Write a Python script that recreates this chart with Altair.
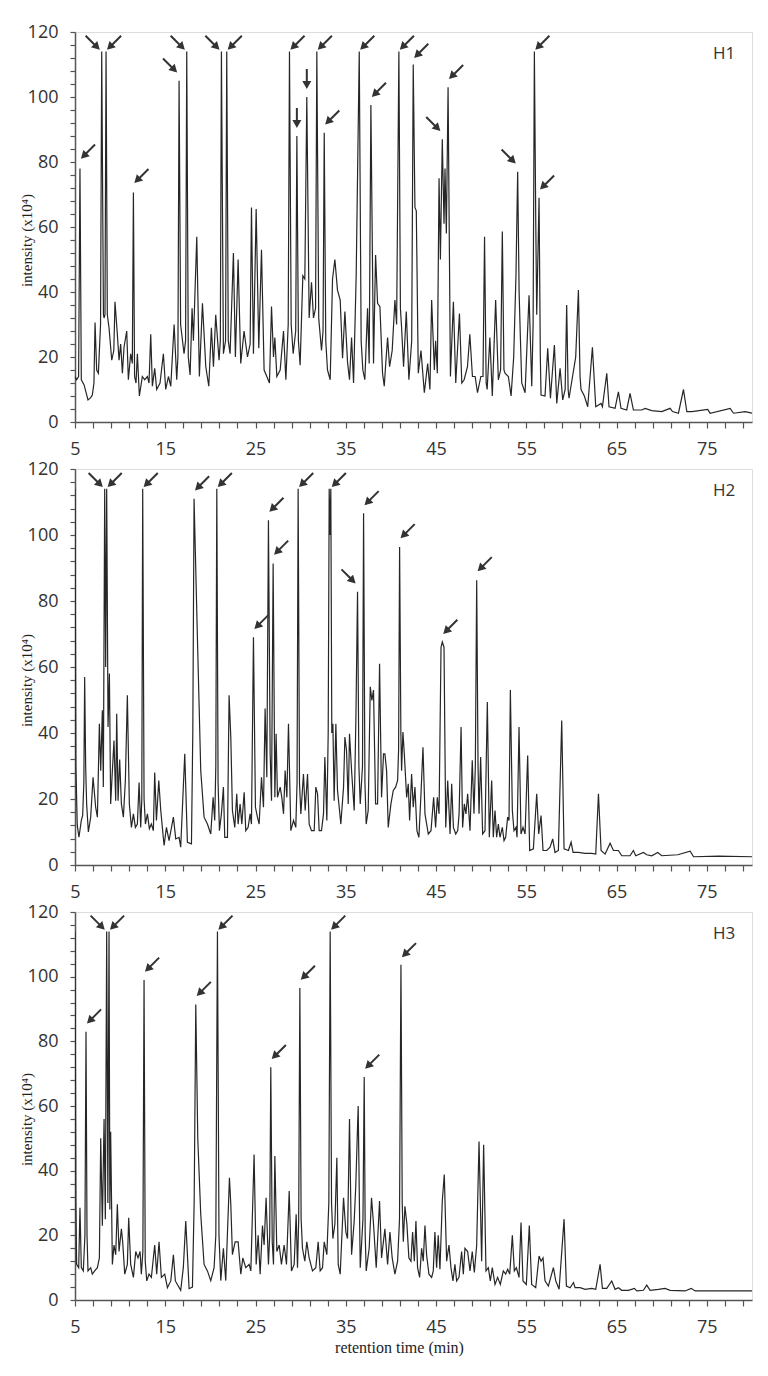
import altair as alt
import pandas as pd

# ---------------- data ----------------
X_DOMAIN = [5, 80]
Y_DOMAIN = [0, 120]
X_TICKS = list(range(5, 80, 2))
Y_TICKS = list(range(0, 121, 4))
PANEL_NAMES = ["H1", "H2", "H3"]
NAME_POS = (76.9, 113.3)

# (retention time, intensity)
H1_TRACE = [
    (5.00, 14), (5.18, 13), (5.40, 14), (5.55, 78), (5.70, 13), (6.00, 11.5), (6.44, 6.8), (6.74, 7.5),
    (6.92, 8.3), (7.10, 12), (7.22, 30.6), (7.40, 16), (7.59, 15), (7.83, 30), (7.96, 114), (8.15, 33),
    (8.22, 32), (8.32, 33), (8.44, 114), (8.58, 33), (8.77, 29), (9.07, 19), (9.30, 22), (9.43, 37),
    (9.69, 27), (9.88, 19), (10.06, 24), (10.25, 15), (10.43, 23), (10.73, 28), (10.91, 13), (11.17, 21),
    (11.35, 18), (11.47, 70.6), (11.60, 14), (11.76, 12), (11.91, 21), (12.13, 8), (12.46, 14), (12.72, 13),
    (13.02, 14), (13.20, 12), (13.39, 27), (13.57, 11), (13.83, 16.5), (14.05, 10), (14.42, 12), (14.79, 21),
    (15.05, 10), (15.35, 14), (15.61, 11), (15.98, 30), (16.27, 13), (16.40, 20), (16.53, 105), (16.70, 30),
    (17.08, 21), (17.25, 25), (17.38, 114), (17.55, 20), (17.75, 14.5), (17.97, 35), (18.12, 25), (18.49, 57),
    (18.78, 14), (19.12, 36.5), (19.49, 17), (19.82, 11), (20.11, 29), (20.34, 17), (20.59, 33), (20.96, 19),
    (21.10, 25), (21.22, 114), (21.44, 21), (21.68, 25), (21.81, 114), (21.98, 25), (22.18, 21), (22.55, 52),
    (22.77, 20), (23.07, 50), (23.36, 18), (23.73, 28), (24.11, 20), (24.40, 24), (24.55, 66), (24.77, 21),
    (25.07, 65.5), (25.36, 22.7), (25.66, 53), (25.95, 16), (26.25, 14), (26.54, 12), (26.77, 35.5), (26.99, 20),
    (27.14, 26), (27.36, 14), (27.73, 16), (28.10, 28), (28.36, 13), (28.62, 30), (28.76, 114), (28.95, 30),
    (29.17, 21), (29.45, 28), (29.58, 88), (29.75, 25), (29.94, 17.5), (30.24, 45), (30.46, 44), (30.68, 100),
    (30.94, 32), (31.20, 43), (31.42, 32), (31.65, 35), (31.79, 114), (32.00, 32), (32.09, 29), (32.31, 22),
    (32.48, 28), (32.61, 89), (32.78, 25), (32.97, 16), (33.27, 13), (33.53, 44), (33.79, 50), (34.08, 40.6),
    (34.38, 37.5), (34.64, 19.6), (34.90, 34), (35.19, 18.5), (35.41, 13), (35.64, 26), (35.86, 12), (36.15, 45),
    (36.49, 114), (36.70, 25), (36.89, 16), (37.11, 13), (37.41, 35), (37.59, 18), (37.78, 97.5), (38.07, 18),
    (38.30, 51.4), (38.52, 36.5), (38.78, 35.5), (39.07, 15), (39.26, 11), (39.40, 17), (39.63, 26), (39.85, 17),
    (40.14, 22), (40.44, 37.5), (40.63, 30), (40.88, 114), (41.05, 35), (41.18, 29), (41.40, 17), (41.70, 34),
    (41.99, 13), (42.30, 25), (42.47, 110), (42.66, 66), (42.81, 65), (43.03, 15), (43.33, 22), (43.70, 9),
    (44.07, 18), (44.32, 10), (44.51, 37.5), (44.81, 16), (44.95, 25), (45.14, 15), (45.33, 75), (45.48, 50),
    (45.69, 87), (45.88, 61), (45.99, 78), (46.14, 58), (46.33, 103), (46.59, 14), (46.92, 37), (47.18, 12),
    (47.59, 33.4), (47.85, 12), (48.11, 13), (48.48, 17), (48.74, 27), (49.03, 14), (49.33, 14), (49.59, 9),
    (49.96, 14), (50.20, 14), (50.37, 57), (50.55, 12), (50.66, 10), (50.96, 26), (51.23, 8), (51.60, 37.5),
    (51.90, 13), (52.15, 16), (52.34, 58.6), (52.52, 16), (52.64, 15), (53.01, 14), (53.31, 8), (53.60, 20),
    (53.85, 45), (54.04, 77), (54.20, 40), (54.34, 26), (54.49, 12), (54.86, 9), (55.30, 39), (55.60, 11),
    (55.75, 30), (55.89, 114), (56.05, 60), (56.15, 33), (56.41, 69), (56.55, 20), (56.63, 8.3), (57.07, 8),
    (57.37, 22.7), (57.67, 7.3), (58.11, 23.7), (58.37, 5.7), (58.74, 16.5), (59.03, 6.8), (59.30, 10), (59.47, 36),
    (59.63, 10), (59.73, 7.3), (60.47, 20), (60.77, 40.6), (60.95, 14), (61.06, 10), (61.43, 8), (61.80, 4.7),
    (62.32, 23), (62.69, 4.7), (63.28, 5.7), (63.43, 4.7), (63.91, 15), (64.16, 4.7), (64.83, 4.2), (65.20, 9.3),
    (65.49, 4.2), (66.12, 3.7), (66.49, 8.8), (66.86, 3.7), (67.79, 3.7), (68.16, 4.2), (68.89, 3.5), (70.00, 3.2),
    (70.93, 4.2), (71.19, 3.2), (71.85, 2.7), (72.41, 10), (72.78, 3.2), (73.34, 3.2), (75.10, 3.9), (75.36, 2.7),
    (77.58, 4.2), (77.95, 2.7), (79.24, 3.2), (80.00, 2.7),
]

H2_TRACE = [
    (5.00, 114), (5.10, 30), (5.25, 12), (5.44, 8.4), (5.70, 13.5), (5.85, 15), (5.98, 25), (6.07, 57),
    (6.18, 30), (6.29, 18.5), (6.48, 10), (6.74, 14.5), (7.00, 26.6), (7.29, 17.5), (7.48, 14.5), (7.70, 42.8),
    (7.85, 28.6), (8.03, 46.9), (8.14, 23.6), (8.29, 114), (8.40, 60), (8.51, 114), (8.66, 41.8), (8.81, 58),
    (8.95, 18.5), (9.14, 28.6), (9.32, 37.7), (9.51, 19.5), (9.62, 45.8), (9.77, 19.5), (9.95, 32), (10.14, 18.5),
    (10.36, 14.5), (10.58, 25.6), (10.80, 51.4), (11.02, 18.5), (11.25, 11.4), (11.47, 15.5), (11.69, 11.4),
    (11.91, 12.4), (12.10, 25), (12.28, 11.4), (12.40, 20), (12.50, 114), (12.65, 20), (12.80, 12.4), (13.02, 15.5),
    (13.24, 11), (13.46, 12.4), (13.68, 10.4), (13.83, 28), (14.02, 13.5), (14.28, 25.6), (14.50, 16.5), (14.87, 5.9),
    (15.13, 11.4), (15.42, 7.4), (15.90, 14.5), (16.16, 7.9), (16.53, 8.4), (16.71, 5.4), (17.16, 33.7), (17.45, 6.9),
    (17.90, 6.4), (18.05, 40), (18.19, 111), (18.56, 69), (18.93, 28.6), (19.30, 14.5), (19.67, 12.4), (20.04, 9.4),
    (20.30, 20.5), (20.48, 13.5), (20.60, 30), (20.71, 114), (20.85, 25), (21.00, 10.4), (21.22, 15.5), (21.44, 23.6),
    (21.59, 8.4), (21.89, 8.4), (22.07, 51.4), (22.26, 38.8), (22.44, 16.5), (22.70, 11.4), (22.92, 21.6), (23.07, 12.4),
    (23.29, 18.5), (23.48, 12.4), (23.74, 22), (23.92, 10.4), (24.18, 11.4), (24.40, 15.5), (24.55, 12.4), (24.77, 69),
    (24.99, 17.5), (25.21, 14.5), (25.40, 12.4), (25.66, 26.6), (25.88, 17.5), (26.06, 47.4), (26.25, 26.6), (26.43, 104.5),
    (26.62, 33.7), (26.77, 19.5), (26.95, 91.4), (27.14, 20.5), (27.28, 39.8), (27.43, 20.5), (27.73, 23.6), (27.91, 20.5),
    (28.10, 15.5), (28.28, 28.6), (28.47, 20.5), (28.65, 42.8), (28.91, 10.4), (29.21, 13.5), (29.46, 11.4), (29.60, 25),
    (29.72, 114), (29.87, 25), (30.02, 15.5), (30.31, 27.6), (30.50, 16.5), (30.76, 27.6), (30.94, 12.4), (31.20, 10.4),
    (31.50, 10.4), (31.68, 23.6), (31.87, 21.6), (32.05, 10.4), (32.31, 10.4), (32.53, 15.5), (32.68, 32.7), (32.90, 13.5),
    (33.05, 40), (33.16, 114), (33.25, 100), (33.34, 114), (33.45, 40), (33.57, 42.8), (33.71, 19.5), (33.90, 42.8),
    (34.08, 22.6), (34.27, 17.5), (34.45, 12.4), (34.75, 23.6), (34.90, 38.8), (35.08, 34.7), (35.27, 18.5), (35.41, 39.8),
    (35.64, 28.6), (35.93, 16.5), (36.12, 44.8), (36.30, 82.8), (36.45, 30), (36.60, 18.5), (36.85, 30), (36.97, 106.6),
    (37.12, 25), (37.26, 12.4), (37.48, 16.5), (37.71, 54), (37.89, 49.9), (38.07, 53), (38.30, 18.5), (38.52, 18.5),
    (38.74, 61), (38.96, 20.5), (39.18, 33.7), (39.33, 33.7), (39.52, 28.6), (39.70, 11.4), (40.00, 18.5), (40.26, 22.6),
    (40.52, 23.6), (40.74, 25.6), (40.85, 35), (40.96, 96.4), (41.10, 40), (41.18, 28.6), (41.33, 40.3), (41.48, 33.7),
    (41.74, 20.5), (41.92, 24.6), (42.07, 13.5), (42.29, 27.6), (42.47, 17.5), (42.66, 23.6), (42.88, 10.4), (43.10, 8.4),
    (43.33, 21.6), (43.55, 35.7), (43.77, 15.5), (44.14, 9.4), (44.44, 10.4), (44.73, 20.5), (44.95, 11.4), (45.14, 20.5),
    (45.33, 15.5), (45.55, 66), (45.69, 67.6), (45.88, 66), (46.07, 11.4), (46.29, 25.6), (46.55, 9.4), (46.73, 24.6),
    (46.92, 11.4), (47.18, 9.4), (47.40, 10.4), (47.55, 15.5), (47.77, 41.8), (47.94, 11.4), (48.13, 18.5), (48.31, 15.5),
    (48.50, 21.6), (48.76, 10.4), (49.01, 31.7), (49.20, 15.5), (49.35, 30), (49.50, 86.3), (49.65, 30), (49.76, 15.5),
    (49.94, 32.7), (50.16, 9.4), (50.42, 10.4), (50.68, 49.4), (50.90, 8.4), (51.16, 25.6), (51.34, 8.4), (51.53, 16.5),
    (51.71, 8.4), (51.90, 12.4), (52.08, 8.4), (52.34, 11.4), (52.53, 7.4), (52.71, 8.4), (52.93, 14.5), (53.08, 13.5),
    (53.23, 53), (53.45, 16.5), (53.63, 10.4), (53.86, 11.4), (53.97, 8.4), (54.19, 41.8), (54.41, 9.4), (54.63, 11.4),
    (54.86, 9.4), (55.15, 33.2), (55.37, 4.4), (55.78, 4.9), (56.15, 21.6), (56.37, 9.4), (56.63, 15), (56.85, 4.4),
    (57.26, 4.4), (57.63, 5.4), (57.92, 7.9), (58.18, 3.8), (58.55, 4.4), (58.92, 43.8), (59.18, 4.9), (59.66, 4.4),
    (59.96, 6.9), (60.18, 3.8), (60.77, 3.8), (61.51, 3.5), (62.25, 3.5), (62.69, 3.3), (62.99, 21.6), (63.28, 4.4),
    (63.73, 3.3), (64.28, 6.6), (64.65, 4.4), (65.20, 4.4), (65.57, 2.8), (66.49, 2.8), (66.86, 4.4), (67.12, 2.8),
    (67.97, 3.8), (68.34, 3.1), (68.89, 2.8), (69.56, 3.8), (70.00, 2.8), (71.78, 3.1), (73.15, 4.2), (73.52, 2.5),
    (76.29, 2.7), (80.00, 2.5),
]

H3_TRACE = [
    (5.00, 114), (5.10, 30), (5.18, 11), (5.41, 10), (5.55, 28.5), (5.70, 10), (5.92, 9), (6.10, 20),
    (6.22, 83), (6.33, 20), (6.44, 9), (6.74, 10), (6.92, 8), (7.18, 9), (7.48, 10), (7.70, 13),
    (7.85, 50), (8.03, 23), (8.22, 56), (8.36, 25), (8.51, 114), (8.64, 30), (8.77, 114), (8.86, 28),
    (8.95, 52), (9.14, 11), (9.32, 17), (9.51, 14), (9.69, 29.6), (9.88, 15), (10.14, 22), (10.28, 18),
    (10.51, 8), (10.80, 11), (10.95, 25.4), (11.17, 11), (11.47, 7), (11.73, 15), (11.98, 13), (12.21, 15),
    (12.35, 8), (12.52, 15), (12.65, 99), (12.78, 12), (12.95, 5.9), (13.20, 8), (13.46, 7), (13.83, 17),
    (14.05, 8), (14.31, 18), (14.57, 7), (14.94, 8), (15.24, 3.8), (15.61, 5.9), (15.90, 14), (16.12, 5.9),
    (16.71, 3), (17.00, 10), (17.27, 24.4), (17.64, 3.5), (18.01, 4), (18.20, 30), (18.38, 91.4), (18.60, 50),
    (18.93, 26.5), (19.30, 11), (19.67, 9), (20.04, 6), (20.41, 10), (20.60, 20), (20.78, 114), (20.95, 20),
    (21.15, 6), (21.44, 16), (21.70, 6), (22.11, 37.8), (22.26, 29.6), (22.44, 14), (22.74, 18), (23.07, 18),
    (23.37, 8), (23.59, 13), (23.92, 10), (24.29, 11), (24.48, 9), (24.84, 45), (25.07, 11), (25.29, 20),
    (25.51, 8), (25.77, 23), (25.95, 17), (26.17, 31.6), (26.43, 11), (26.57, 20), (26.69, 72), (26.85, 18),
    (26.99, 11), (27.14, 44.5), (27.36, 15), (27.62, 17), (27.87, 11), (28.17, 17), (28.43, 11), (28.73, 33.7),
    (28.98, 9), (29.28, 11), (29.50, 26.5), (29.65, 10), (29.78, 25), (29.91, 96.5), (30.05, 25), (30.20, 16),
    (30.46, 12), (30.68, 18), (30.94, 13), (31.31, 9), (31.68, 10), (31.94, 18), (32.16, 9), (32.42, 10),
    (32.61, 18), (32.90, 14), (33.12, 30), (33.27, 114), (33.42, 30), (33.57, 19), (33.79, 23.5), (34.01, 44),
    (34.16, 11), (34.38, 8), (34.75, 31.6), (35.01, 21), (35.19, 19), (35.41, 56), (35.64, 14), (35.93, 24.4),
    (36.10, 35), (36.37, 60), (36.60, 10), (36.90, 25), (37.04, 69), (37.15, 20), (37.26, 9), (37.59, 16),
    (37.85, 31.6), (38.07, 23.5), (38.37, 10), (38.74, 30.6), (38.96, 13), (39.33, 22), (39.63, 11), (39.89, 21),
    (40.14, 13), (40.44, 8), (40.74, 12), (40.95, 25), (41.11, 103.7), (41.25, 30), (41.37, 18), (41.55, 29),
    (41.77, 23.4), (41.99, 13), (42.22, 12), (42.40, 21), (42.59, 12), (42.77, 24.4), (42.95, 10), (43.18, 7),
    (43.40, 16), (43.58, 12), (43.77, 23), (43.95, 14), (44.21, 8), (44.51, 7), (44.69, 9), (44.87, 21),
    (45.06, 10), (45.24, 20), (45.43, 9.5), (45.69, 30.6), (45.91, 38.8), (46.17, 12), (46.43, 17), (46.65, 10),
    (46.87, 5.9), (47.09, 11), (47.28, 5.9), (47.54, 7), (47.83, 15), (48.02, 8), (48.20, 16), (48.50, 15),
    (48.76, 9), (49.01, 15), (49.24, 8.5), (49.50, 17), (49.76, 49), (50.05, 12), (50.27, 48), (50.53, 9),
    (50.79, 10), (51.01, 5.9), (51.23, 10), (51.53, 4.8), (51.82, 7), (52.12, 4.8), (52.45, 9), (52.71, 8),
    (52.93, 9.5), (53.16, 8), (53.45, 20), (53.67, 9), (53.90, 10), (54.19, 7), (54.41, 24), (54.63, 5.9),
    (55.00, 4.8), (55.33, 23), (55.59, 4.8), (56.04, 3.8), (56.41, 13.6), (56.63, 12), (56.85, 13), (57.07, 5.9),
    (57.44, 4.3), (57.74, 7.4), (58.00, 10), (58.26, 5.9), (58.63, 3.3), (59.18, 25), (59.44, 4.3), (59.85, 3.8),
    (60.22, 5.4), (60.40, 3.8), (60.96, 3.8), (61.51, 3.3), (62.25, 3.6), (62.69, 3.3), (63.17, 11), (63.43, 3.6),
    (63.91, 3.6), (64.46, 5.9), (64.83, 3.3), (65.20, 3.8), (65.57, 3), (66.31, 3), (66.97, 3.6), (67.23, 2.8),
    (67.97, 3), (68.34, 4.6), (68.71, 3), (69.63, 3.3), (70.37, 3.6), (70.93, 3), (72.59, 2.8), (73.26, 3.6),
    (73.71, 2.8), (76.30, 2.8), (80.00, 2.8),
]

# arrows: (retention time, intensity at arrow tip, direction the arrow points)
H1_ARROWS = [
    (5.55, 81, "sw"), (7.96, 114.5, "se"), (8.44, 114.5, "sw"), (11.47, 73.5, "sw"), (16.53, 107.5, "se"),
    (17.38, 114.5, "se"), (21.22, 114.5, "se"), (21.81, 114.5, "sw"), (28.76, 114.5, "sw"), (29.58, 90.5, "s"),
    (30.68, 102.5, "s"), (31.79, 114.5, "sw"), (32.61, 91.5, "sw"), (36.49, 114.5, "sw"), (37.78, 100, "sw"),
    (40.88, 114.5, "sw"), (42.47, 112, "sw"), (45.69, 89.5, "se"), (46.33, 105.5, "sw"), (54.04, 79.5, "se"),
    (55.89, 114.5, "sw"), (56.41, 71.5, "sw"),
]
H2_ARROWS = [
    (8.29, 114.5, "se"), (8.51, 114.5, "sw"), (12.50, 114.5, "sw"), (18.19, 113.5, "sw"), (20.71, 114.5, "sw"),
    (24.77, 71.5, "sw"), (26.43, 107, "sw"), (26.95, 94, "sw"), (29.72, 114.5, "sw"), (33.34, 114.5, "sw"),
    (36.30, 85.3, "se"), (36.97, 109, "sw"), (40.96, 99, "sw"), (45.69, 70, "sw"), (49.50, 89, "sw"),
]
H3_ARROWS = [
    (6.22, 85.5, "sw"), (8.51, 114.5, "se"), (8.77, 114.5, "sw"), (12.65, 101.5, "sw"), (18.38, 94, "sw"),
    (20.78, 114.5, "sw"), (26.69, 74.5, "sw"), (29.91, 99, "sw"), (33.27, 114.5, "sw"), (37.04, 71.5, "sw"),
    (41.11, 106, "sw"),
]

# ---------------- styling ----------------
ARROW_PATH = "M-0.1,-1L0.1,-1L0.1,0.2L0.45,0.2L0,1L-0.45,0.2L-0.1,0.2Z"
ARROW_SIZE = 400
ARROW_STYLE = {"sw": (45, 8, -7.1), "se": (315, -9, -7.1), "s": (0, 0, -10)}
SANS = "Open Sans"
SERIF = "Liberation Serif"
WIDTH = 677


def panel(name, trace, arrows, height, xtitle):
    df = pd.DataFrame(trace, columns=["t", "i"])
    xaxis = alt.Axis(
        values=X_TICKS, tickCount=500, format="d",
        labelExpr="datum.value % 10 == 5 ? datum.label : ''",
        tickSize=6, tickColor="#555", tickWidth=1.2, domainColor="#555", domainWidth=1.5,
        labelFont=SANS, labelFontSize=18, labelColor="#333", labelPadding=12,
        labelOverlap=False, labelFlush=False, grid=False,
        title=xtitle if xtitle else None, titleFont=SERIF, titleFontSize=16,
        titleFontWeight="normal", titleColor="#222", titleX=324, titleY=47, titleBaseline="middle",
    )
    yaxis = alt.Axis(
        values=Y_TICKS, tickCount=500, format="d",
        labelExpr="datum.value % 20 == 0 ? datum.label : ''",
        tickSize=5, tickColor="#555", tickWidth=1.2, domainColor="#555", domainWidth=1.5,
        labelFont=SANS, labelFontSize=18, labelColor="#333", labelPadding=12,
        labelOverlap=False, labelFlush=False, grid=False,
        title="intensity (x10⁴)", titleFont=SERIF, titleFontSize=15, titleFontWeight="normal",
        titleColor="#222", titleX=-49, titleY=height / 2 + 13, titleBaseline="middle",
    )
    xs = alt.Scale(domain=X_DOMAIN, nice=False, zero=False)
    ys = alt.Scale(domain=Y_DOMAIN, nice=False, zero=True)
    line = alt.Chart(df).mark_line(color="#262626", strokeWidth=1.2, clip=True).encode(
        x=alt.X("t:Q", scale=xs, axis=xaxis),
        y=alt.Y("i:Q", scale=ys, axis=yaxis),
        order="t:Q",
    )
    layers = [line]
    adf = pd.DataFrame(arrows, columns=["t", "i", "dir"])
    for d, (ang, dx, dy) in ARROW_STYLE.items():
        sub = adf[adf["dir"] == d]
        if len(sub) == 0:
            continue
        layers.append(
            alt.Chart(sub).mark_point(
                shape=ARROW_PATH, size=ARROW_SIZE, filled=True, color="#333", opacity=1,
                angle=ang, xOffset=dx, yOffset=dy, strokeWidth=0,
            ).encode(x=alt.X("t:Q", scale=xs), y=alt.Y("i:Q", scale=ys))
        )
    ldf = pd.DataFrame({"t": [NAME_POS[0]], "i": [NAME_POS[1]], "txt": [name]})
    layers.append(
        alt.Chart(ldf).mark_text(font=SANS, fontSize=17, color="#333", align="center", baseline="middle").encode(
            x=alt.X("t:Q", scale=xs), y=alt.Y("i:Q", scale=ys), text="txt:N"
        )
    )
    return alt.layer(*layers).properties(width=WIDTH, height=height)


p1 = panel(PANEL_NAMES[0], H1_TRACE, H1_ARROWS, 390, None)
p2 = panel(PANEL_NAMES[1], H2_TRACE, H2_ARROWS, 396, None)
p3 = panel(PANEL_NAMES[2], H3_TRACE, H3_ARROWS, 388, "retention time (min)")

chart = alt.vconcat(p1, p2, p3, spacing=47, bounds="flush").properties(
    padding={"left": 10, "top": 14, "right": 5, "bottom": 5}
).configure_view(stroke="#7a7a7a", strokeWidth=1.5).configure(background="white")

chart.save("out.html", embed_options={"renderer": "svg", "actions": False})
